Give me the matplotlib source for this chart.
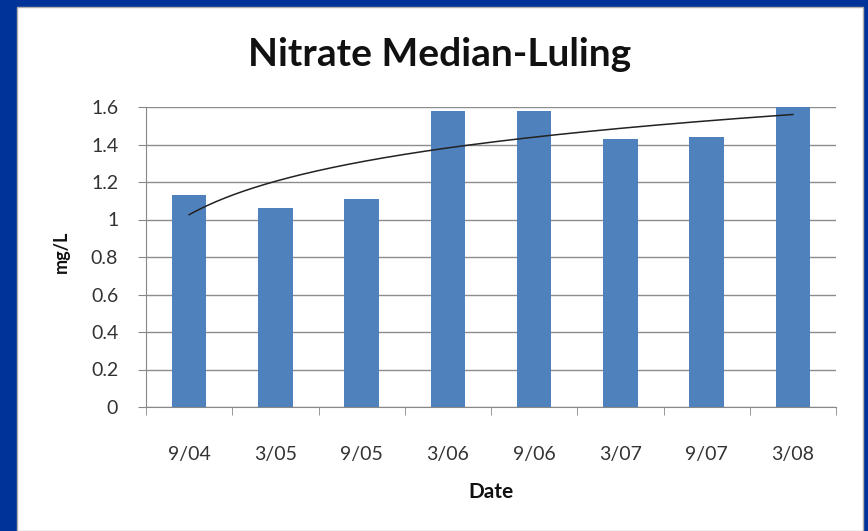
import numpy as np
import matplotlib.pyplot as plt
from matplotlib.patches import Rectangle

# Data
dates   = ['9/04', '3/05', '9/05', '3/06', '9/06', '3/07', '9/07', '3/08']
nitrate = [1.13, 1.06, 1.11, 1.58, 1.58, 1.43, 1.44, 1.60]
yticks  = [0, 0.2, 0.4, 0.6, 0.8, 1, 1.2, 1.4, 1.6]

plt.rcParams['font.family'] = ['Lato', 'DejaVu Sans']

fig = plt.figure(figsize=(8.68, 5.31), dpi=100)
fig.patch.set_facecolor('#00339a')
fig.patches.append(Rectangle((17/868, 0), (863-17)/868, (531-7)/531,
                             transform=fig.transFigure, facecolor='white',
                             edgecolor='#b0b0b0', lw=1, zorder=-5))

ax = fig.add_axes([146/868, 124/531, 690/868, 300/531])
ax.set_zorder(2)
x = np.arange(1, len(dates)+1)
ax.bar(x, nitrate, width=0.4, color='#4f81bd', zorder=3)

# logarithmic trendline (Excel style)
a, b = np.polyfit(np.log(x), nitrate, 1)
xt = np.linspace(1, len(dates), 200)
ax.plot(xt, a*np.log(xt) + b, color='#222222', lw=1.1, zorder=4)

ax.set_xlim(0.5, len(dates)+0.5)
ax.set_ylim(0, 1.6)
ax.set_yticks(yticks)
ax.set_yticklabels(['0', '0.2', '0.4', '0.6', '0.8', '1', '1.2', '1.4', '1.6'])
ax.set_xticks(x)
ax.set_xticklabels(dates)
ax.set_xticks(np.arange(0.5, len(dates)+1), minor=True)
ax.tick_params(axis='x', which='major', length=0, pad=28, labelsize=14, colors='#333333')
ax.tick_params(axis='x', which='minor', length=6, color='#888888', direction='out')
ax.tick_params(axis='y', length=6, color='#888888', labelsize=14, colors='#333333', pad=14)

ax.grid(axis='y', color='#8c8c8c', lw=1, zorder=0)
for s in ['top', 'right']:
    ax.spines[s].set_visible(False)
ax.spines['left'].set_color('#888888')
ax.spines['bottom'].set_color('#888888')
ax.set_facecolor('none')

fig.text(440/868, 476/531, 'Nitrate Median-Luling', ha='center', va='center',
         fontsize=28, fontweight='bold', color='#111111')
fig.text(491/868, 39/531, 'Date', ha='center', va='center',
         fontsize=15, fontweight='bold', color='#111111')
fig.text(61/868, 279/531, 'mg/L', ha='center', va='center', rotation=90,
         fontsize=13, fontweight='bold', color='#111111')

plt.savefig('out.png', dpi=100, facecolor=fig.get_facecolor())
